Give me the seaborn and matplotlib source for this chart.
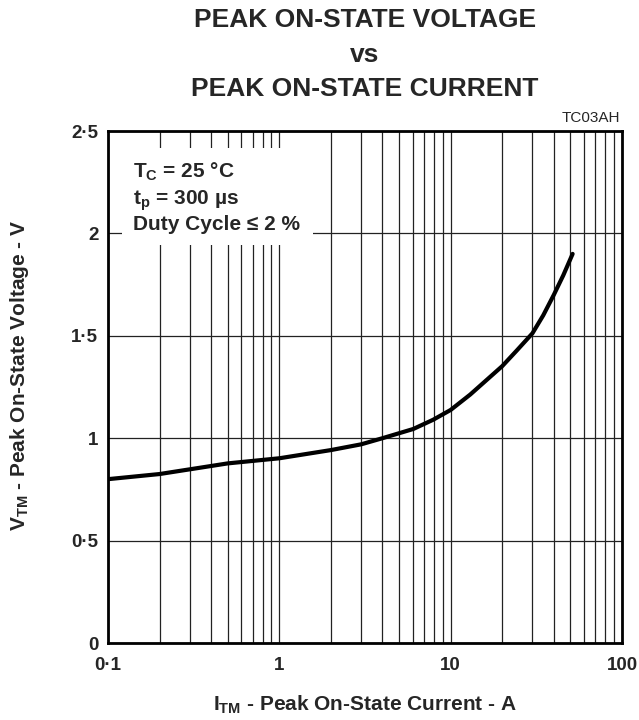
import numpy as np
import pandas as pd
import matplotlib
matplotlib.use("Agg")
import matplotlib.pyplot as plt
import seaborn as sns
from matplotlib.ticker import LogLocator, NullFormatter, FixedLocator
from matplotlib.patches import Rectangle

# ---- data ----
current_a = [0.1, 0.2, 0.3, 0.5, 1, 2, 3, 4, 6.05, 7.9, 10, 13, 16.2, 20,
             24.3, 30, 34.7, 40, 45.4, 51.5]
voltage_v = [0.80, 0.825, 0.848, 0.877, 0.902, 0.942, 0.97, 1.0, 1.045, 1.09,
             1.138, 1.213, 1.284, 1.352, 1.428, 1.512, 1.60, 1.70, 1.795, 1.90]

x_ticks = [0.1, 1, 10, 100]
x_tick_labels = ["0·1", "1", "10", "100"]
y_ticks = [0, 0.5, 1, 1.5, 2, 2.5]
y_tick_labels = ["0", "0·5", "1", "1·5", "2", "2·5"]

title_lines = ["PEAK ON-STATE VOLTAGE", "vs", "PEAK ON-STATE CURRENT"]
code_label = "TC03AH"
notes = [r"$\mathbf{T_C}$ = 25 °C", r"$\mathbf{t_p}$ = 300 µs", "Duty Cycle ≤ 2 %"]
x_label = r"$\mathbf{I_{TM}}$ - Peak On-State Current - A"
y_label = r"$\mathbf{V_{TM}}$ - Peak On-State Voltage - V"

df = pd.DataFrame({"I": current_a, "V": voltage_v})

# ---- style ----
sns.set_style("white")
plt.rcParams["font.family"] = ["Liberation Sans", "DejaVu Sans"]
plt.rcParams["mathtext.fontset"] = "custom"
plt.rcParams["mathtext.rm"] = "Liberation Sans:bold"
plt.rcParams["mathtext.bf"] = "Liberation Sans:bold"
plt.rcParams["mathtext.it"] = "Liberation Sans:bold"

W, H = 639, 720
fig = plt.figure(figsize=(W / 100, H / 100), dpi=100)
L, R, T, B = 108, 622, 131, 643
ax = fig.add_axes([L / W, 1 - B / H, (R - L) / W, (B - T) / H])
ax.set_axisbelow(True)

sns.lineplot(data=df, x="I", y="V", ax=ax, color="black", linewidth=3.0,
             zorder=3, sort=True)

ax.set_xscale("log")
ax.set_xlim(0.1, 100)
ax.set_ylim(0, 2.5)

ax.xaxis.set_major_locator(FixedLocator(x_ticks))
ax.xaxis.set_minor_locator(LogLocator(base=10, subs=np.arange(2, 10)))
ax.xaxis.set_minor_formatter(NullFormatter())
ax.set_xticks(x_ticks)
ax.set_xticklabels(x_tick_labels)
ax.set_yticks(y_ticks)
ax.set_yticklabels(y_tick_labels)

ax.grid(which="both", axis="x", color="#222222", linewidth=0.9)
ax.grid(which="major", axis="y", color="#222222", linewidth=0.9)

ax.tick_params(axis="both", which="both", length=0)
ax.tick_params(axis="x", pad=10, labelsize=13.5)
ax.tick_params(axis="y", pad=7, labelsize=13.5)
for lab in ax.get_xticklabels() + ax.get_yticklabels():
    lab.set_fontweight("bold")

for s in ax.spines.values():
    s.set_visible(True)
    s.set_color("black")
    s.set_linewidth(2.0)

ax.set_xlabel("")
ax.set_ylabel("")

# white box behind the notes
def fx(px):
    return (px - L) / (R - L)

def fy(py):
    return (B - py) / (B - T)

ax.add_patch(Rectangle((fx(122), fy(245)), fx(313) - fx(122), fy(148) - fy(245),
                       transform=ax.transAxes, facecolor="white",
                       edgecolor="none", zorder=1.5))
for txt, py in zip(notes, [178, 205, 230]):
    ax.text(fx(133), fy(py), txt, transform=ax.transAxes, fontsize=15,
            fontweight="bold", ha="left", va="baseline", zorder=4)

# titles
for txt, py in zip(title_lines, [20, 55, 89]):
    fig.text((L + R) / 2 / W, 1 - py / H, txt, ha="center", va="center",
             fontsize=19, fontweight="bold")
fig.text(620 / W, 1 - 118 / H, code_label, ha="right", va="center", fontsize=11)

fig.text((L + R) / 2 / W, 1 - 705 / H, x_label, ha="center", va="center",
         fontsize=15, fontweight="bold")
fig.text(20 / W, 1 - 375 / H, y_label, ha="center", va="center",
         rotation=90, fontsize=15, fontweight="bold")

fig.savefig("out.png", dpi=100, facecolor="white")
